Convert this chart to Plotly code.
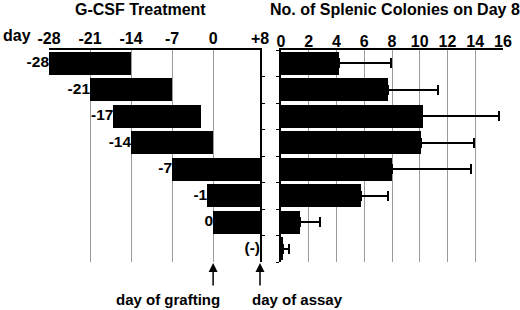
import plotly.graph_objects as go

# ---- data ----
row_labels = ["-28", "-21", "-17", "-14", "-7", "-1", "0", "(-)"]
treat_start = [-28, -21, -17, -14, -7, -1, 0, None]
treat_end = [-14, -7, -2, 0, 8, 8, 8, None]
day_ticks = [-28, -21, -14, -7, 0, 8]
day_tick_text = ["-28", "-21", "-14", "-7", "0", "+8"]
colonies_mean = [4.2, 7.7, 10.2, 10.1, 8.0, 5.8, 1.4, 0.15]
colonies_err = [3.7, 3.6, 5.5, 3.8, 5.7, 1.9, 1.4, 0.45]
day_grafting = 0
day_assay = 8

W, H = 520, 310
FONT = "Liberation Sans, Arial, Helvetica, sans-serif"
GRID = "#9a9a9a"

rows = list(range(len(row_labels)))
bar_rows = [r for r, s in zip(rows, treat_start) if s is not None]
bar_base = [s for s in treat_start if s is not None]
bar_len = [e - s for s, e in zip(treat_start, treat_end) if s is not None]
label_x = [s if s is not None else day_assay for s in treat_start]

fig = go.Figure()

fig.add_trace(go.Bar(
    orientation="h", y=bar_rows, x=bar_len, base=bar_base,
    marker=dict(color="black", line=dict(width=0)), width=0.88,
    xaxis="x", yaxis="y", showlegend=False, hoverinfo="skip"))

fig.add_trace(go.Scatter(
    x=label_x, y=rows, mode="text", text=row_labels,
    textposition="middle left",
    textfont=dict(family=FONT, size=15.5, color="black", weight="bold"),
    xaxis="x", yaxis="y", showlegend=False, hoverinfo="skip", cliponaxis=False))

fig.add_trace(go.Bar(
    orientation="h", y=rows, x=colonies_mean,
    marker=dict(color="black", line=dict(width=0)), width=0.88,
    error_x=dict(type="data", symmetric=False, array=colonies_err,
                 arrayminus=[0] * len(rows), color="black", thickness=1.8, width=5),
    xaxis="x2", yaxis="y2", showlegend=False, hoverinfo="skip"))

ydom = [1 - 262 / H, 1 - 50 / H]
tickfont = dict(family=FONT, size=16, color="black", weight="bold")
bounds = [r + 0.5 for r in rows[:-1]]

fig.update_layout(
    width=W, height=H, margin=dict(l=0, r=0, t=0, b=0, autoexpand=False),
    paper_bgcolor="white", plot_bgcolor="white", bargap=0,
    xaxis=dict(domain=[49 / W, 260 / W], range=[-28, 8], side="top",
               tickmode="array", tickvals=day_ticks, ticktext=day_tick_text,
               showgrid=True, gridcolor=GRID, gridwidth=1, zeroline=False,
               showline=True, linecolor="black", linewidth=1.5, ticks="",
               tickfont=tickfont, ticklabelstandoff=-2, anchor="y", automargin=False),
    yaxis=dict(domain=ydom, range=[7.5, -0.5], side="right", anchor="x",
               showline=True, linecolor="black", linewidth=1.5,
               ticks="outside", ticklen=3, tickcolor="black", tickmode="array",
               tickvals=bounds, showticklabels=False, showgrid=False, zeroline=False,
               automargin=False),
    xaxis2=dict(domain=[281 / W, 503 / W], range=[0, 16], side="top",
                tickmode="linear", tick0=0, dtick=2,
                showgrid=True, gridcolor=GRID, gridwidth=1, zeroline=False,
                showline=True, linecolor="black", linewidth=1.5, ticks="",
                tickfont=tickfont, ticklabelstandoff=-5, anchor="y2", automargin=False),
    yaxis2=dict(domain=ydom, matches="y", side="left", anchor="x2",
                showline=True, linecolor="black", linewidth=1.5,
                ticks="outside", ticklen=3, tickcolor="black", tickmode="array",
                tickvals=[-0.5] + bounds + [7.5], showticklabels=False,
                showgrid=False, zeroline=False, automargin=False),
)

ann_font = dict(family=FONT, size=15, color="black", weight="bold")
title_font = dict(family=FONT, size=16, color="black", weight="bold")
fig.add_annotation(text="G-CSF Treatment", x=140 / W, y=1 - 10 / H, xref="paper", yref="paper",
                   xanchor="center", yanchor="middle", showarrow=False, font=title_font)
fig.add_annotation(text="No. of Splenic Colonies on Day 8", x=395 / W, y=1 - 10 / H,
                   xref="paper", yref="paper", xanchor="center", yanchor="middle",
                   showarrow=False, font=title_font)
fig.add_annotation(text="day", x=17 / W, y=1 - 35 / H, xref="paper", yref="paper",
                   xanchor="center", yanchor="middle", showarrow=False,
                   font=dict(family=FONT, size=16, color="black", weight="bold"))

arrow_y = 1 - 263 / H
for d in (day_grafting, day_assay):
    fig.add_annotation(x=d, y=arrow_y, xref="x", yref="paper", text="",
                       showarrow=True, ax=0, ay=24, arrowhead=2, arrowsize=1.2,
                       arrowwidth=1.5, arrowcolor="black")

fig.add_annotation(text="day of grafting", x=day_grafting, xref="x", xanchor="right", xshift=9,
                   y=1 - 299 / H, yref="paper", yanchor="middle", showarrow=False, font=ann_font)
fig.add_annotation(text="day of assay", x=day_assay, xref="x", xanchor="left", xshift=-10,
                   y=1 - 299 / H, yref="paper", yanchor="middle", showarrow=False, font=ann_font)

fig.write_html("out.html", config={"displayModeBar": False},
               post_script="document.body.style.margin='0';")
